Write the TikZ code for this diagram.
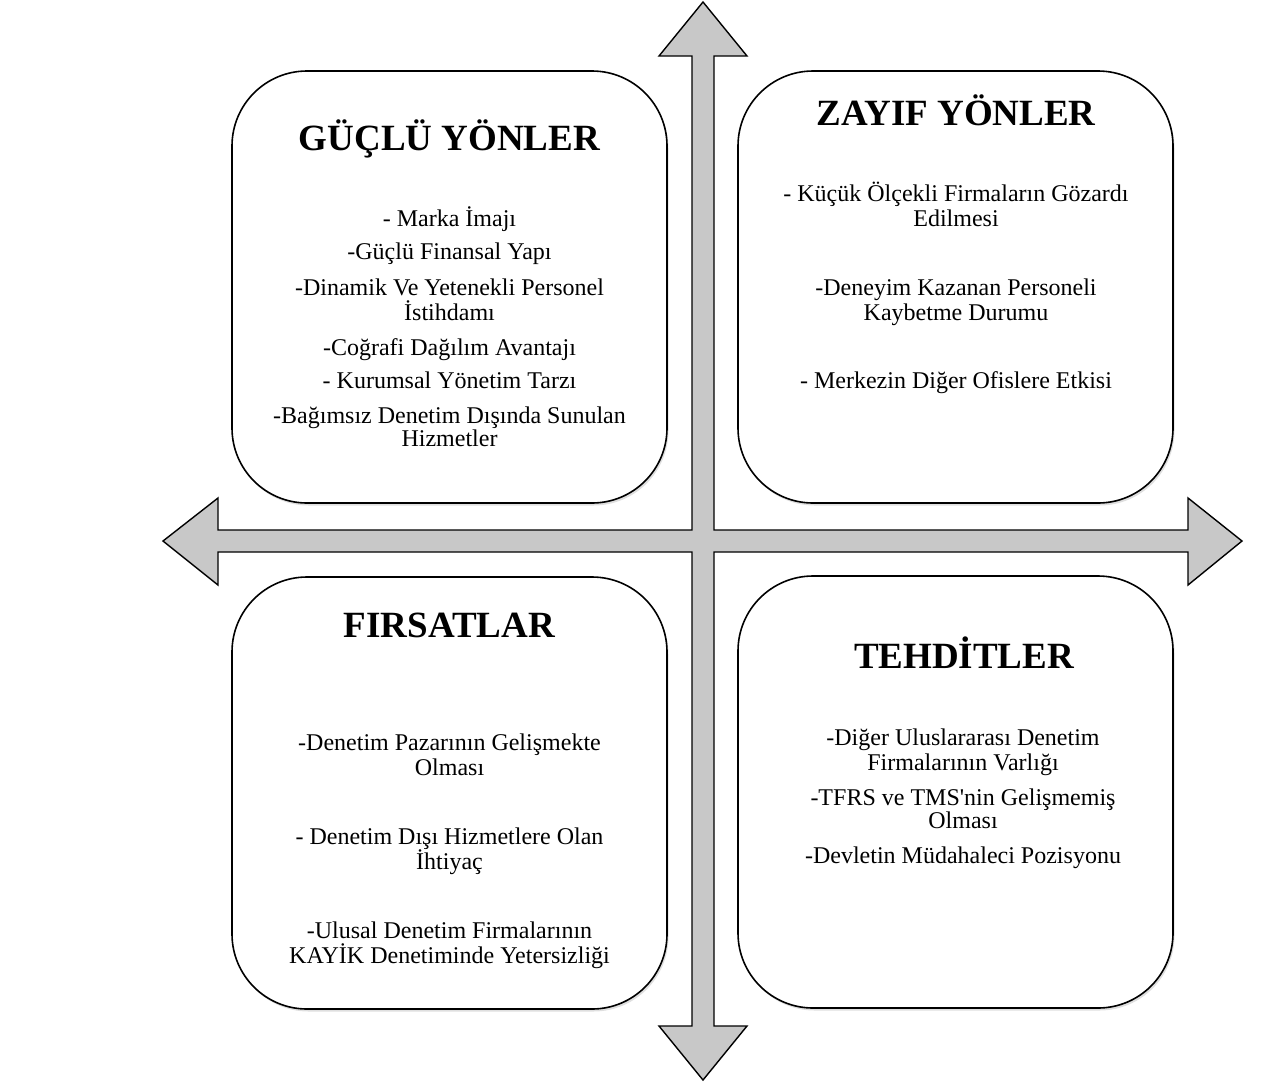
\documentclass[tikz,border=0pt]{standalone}
\usepackage{fontspec}
\setmainfont{Liberation Serif}
\usetikzlibrary{shadows}
\definecolor{arrowgray}{RGB}{200,200,200}
\begin{document}
\begin{tikzpicture}[x=1pt,y=-1pt,
  swotbox/.style={draw=black, line width=1.6pt, fill=white, rounded corners=75pt,
    minimum width=435pt, minimum height=432pt, inner sep=0pt,
    drop shadow={shadow xshift=1.5pt, shadow yshift=-2.5pt, opacity=0.25}},
  ttl/.style={anchor=base, inner sep=0pt, font=\fontsize{37}{40}\selectfont\bfseries},
  itm/.style={anchor=base, inner sep=0pt, font=\fontsize{24}{25}\selectfont},
  bigarrow/.style={draw=black, line width=1.4pt, fill=arrowgray, line join=miter}]
\useasboundingbox (0,0) rectangle (1261,1088);

% four-headed arrow
\draw[bigarrow] (703,2) -- (747,56) -- (714,56) -- (714,530) -- (1188,530) -- (1188,498)
  -- (1242,541) -- (1188,585) -- (1188,552) -- (714,552) -- (714,1026) -- (747,1026)
  -- (703,1080) -- (659,1026) -- (692,1026) -- (692,552) -- (218,552) -- (218,585)
  -- (163,541) -- (218,498) -- (218,530) -- (692,530) -- (692,56) -- (659,56) -- cycle;

% boxes
\node[swotbox] (S) at (449.5,287) {};
\node[swotbox] (W) at (955.5,287) {};
\node[swotbox] (O) at (449.5,793) {};
\node[swotbox] (T) at (955.5,792) {};

% strengths
\node[ttl] (St) at (449.5,150) {GÜÇLÜ YÖNLER};
\node[itm] (S1) at (449.5,226) {- Marka İmajı};
\node[itm] (S2) at (449.5,259.3) {-Güçlü Finansal Yapı};
\node[itm] (S3a) at (449.5,295) {-Dinamik Ve Yetenekli Personel};
\node[itm] (S3b) at (449.5,320) {İstihdamı};
\node[itm] (S4) at (449.5,355) {-Coğrafi Dağılım Avantajı};
\node[itm] (S5) at (449.5,388.3) {- Kurumsal Yönetim Tarzı};
\node[itm] (S6a) at (449.5,423.3) {-Bağımsız Denetim Dışında Sunulan};
\node[itm] (S6b) at (449.5,446.7) {Hizmetler};

% weaknesses
\node[ttl] (Wt) at (956,125) {ZAYIF YÖNLER};
\node[itm] (W1a) at (956,201.7) {- Küçük Ölçekli Firmaların Gözardı};
\node[itm] (W1b) at (956,226.7) {Edilmesi};
\node[itm] (W2a) at (956,295) {-Deneyim Kazanan Personeli};
\node[itm] (W2b) at (956,320) {Kaybetme Durumu};
\node[itm] (W3) at (956,388.3) {- Merkezin Diğer Ofislere Etkisi};

% opportunities
\node[ttl] (Ot) at (449.5,637.5) {FIRSATLAR};
\node[itm] (O1a) at (449.5,750.4) {-Denetim Pazarının Gelişmekte};
\node[itm] (O1b) at (449.5,775.3) {Olması};
\node[itm] (O2a) at (449.5,844) {- Denetim Dışı Hizmetlere Olan};
\node[itm] (O2b) at (449.5,869) {İhtiyaç};
\node[itm] (O3a) at (449.5,938) {-Ulusal Denetim Firmalarının};
\node[itm] (O3b) at (449.5,963) {KAYİK Denetiminde Yetersizliği};

% threats
\node[ttl] (Tt) at (964,668) {TEHDİTLER};
\node[itm] (T1a) at (963,745) {-Diğer Uluslararası Denetim};
\node[itm] (T1b) at (963,770) {Firmalarının Varlığı};
\node[itm] (T2a) at (963,805) {-TFRS ve TMS\textquotesingle nin Gelişmemiş};
\node[itm] (T2b) at (963,828) {Olması};
\node[itm] (T3) at (963,863.3) {-Devletin Müdahaleci Pozisyonu};
\end{tikzpicture}
\end{document}
